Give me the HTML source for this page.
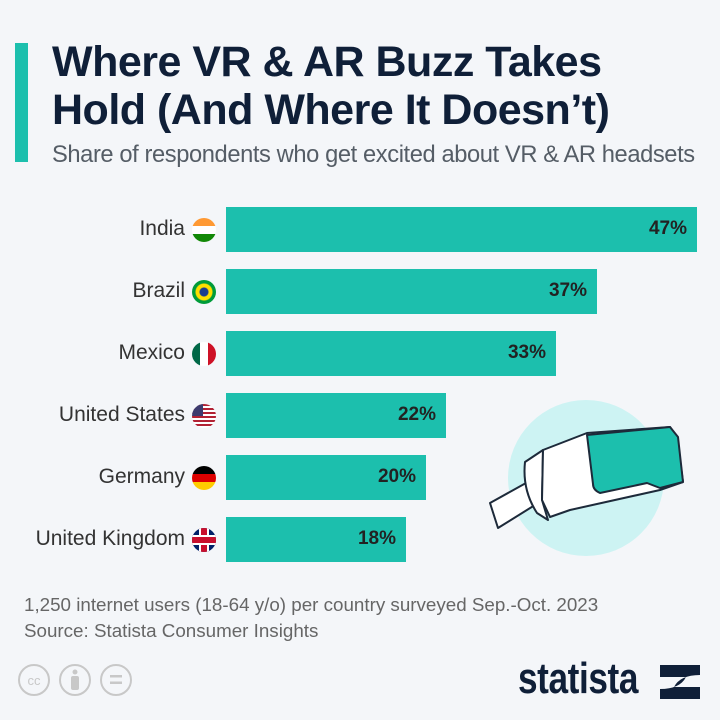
<!DOCTYPE html>
<html><head><style>
body{margin:0;width:720px;height:720px;background:#f4f6f9;font-family:"Liberation Sans",sans-serif;position:relative;overflow:hidden}
.a{position:absolute}
.t{left:52px;color:#0f1f38;font-weight:bold;font-size:43px;line-height:48px;top:38px;letter-spacing:-0.5px;white-space:nowrap}
.s{left:52px;top:142px;font-size:23.7px;color:#555d66;letter-spacing:-0.4px;white-space:nowrap}
.bar{position:absolute;left:226px;height:45px;background:#1cbfad}
.bar span{position:absolute;right:10px;top:11px;font-size:19px;color:#222;font-weight:bold}
.lab{position:absolute;right:535px;font-size:21px;color:#333;width:220px;text-align:right;white-space:nowrap}
.fl{position:absolute;left:192px;width:24px;height:24px;border-radius:50%;overflow:hidden}
.f{font-size:18.8px;color:#666;left:24px;white-space:nowrap}
</style></head><body>
<div class="a" style="left:15px;top:43px;width:13px;height:119px;background:#1cbfad"></div>
<div class="a t">Where VR &amp; AR Buzz Takes<br>Hold (And Where It Doesn’t)</div>
<div class="a s">Share of respondents who get excited about VR &amp; AR headsets</div>

<svg class="a" style="left:0;top:0" width="720" height="720">
<circle cx="586" cy="478" r="78" fill="#cdf3f3"/>
<g stroke="#1d2a3a" stroke-width="2" stroke-linejoin="round">
<path d="M490 503 L535 478 L543 500 L498 528 Z" fill="#fff"/>
<path d="M525 462 L543 450 L542 500 L548 520 L537 513 Q522 490 525 462 Z" fill="#fff"/>
<path d="M543 450 L587 433 L670 427 L677 437 L683 482 L660 490 L570 510 L550 517 L542 500 Z" fill="#fff"/>
<path d="M587 435 L670 427 L678 437 L683 482 L660 488 L647 483 L600 493 Q593 490 593 484 Z" fill="#1cbfad"/>
</g>
</svg>

<div class="bar" style="top:207px;width:471px"><span>47%</span></div>
<div class="bar" style="top:269px;width:371px"><span>37%</span></div>
<div class="bar" style="top:331px;width:330px"><span>33%</span></div>
<div class="bar" style="top:393px;width:220px"><span>22%</span></div>
<div class="bar" style="top:455px;width:200px"><span>20%</span></div>
<div class="bar" style="top:517px;width:180px"><span>18%</span></div>

<div class="lab" style="top:217px">India</div>
<div class="lab" style="top:279px">Brazil</div>
<div class="lab" style="top:341px">Mexico</div>
<div class="lab" style="top:403px">United States</div>
<div class="lab" style="top:465px">Germany</div>
<div class="lab" style="top:527px">United Kingdom</div>

<div class="fl" style="top:218px;background:linear-gradient(#f93 33%,#fff 33% 66%,#128807 66%)"></div>
<div class="fl" style="top:280px;background:radial-gradient(circle,#1a3c8f 4px,#fedf00 5px,#fedf00 8px,#009b3a 9px)"></div>
<div class="fl" style="top:342px;background:linear-gradient(90deg,#006847 33%,#fff 33% 66%,#ce1126 66%)"></div>
<div class="fl" style="top:404px;background:repeating-linear-gradient(#b22234 0 2px,#fff 2px 4px)"><div style="width:11px;height:12px;background:#3c3b6e"></div></div>
<div class="fl" style="top:466px;background:linear-gradient(#000 33%,#d00 33% 66%,#fc0 66%)"></div>
<div class="fl" style="top:528px;background:#012169"><div style="position:absolute;top:0;width:6px;height:24px;background:#c8102e;border-left:2px solid #fff;border-right:2px solid #fff;left:7px"></div><div style="position:absolute;top:7px;left:0;width:24px;height:6px;background:#c8102e;border-top:2px solid #fff;border-bottom:2px solid #fff"></div></div>

<div class="a f" style="top:594px">1,250 internet users (18-64 y/o) per country surveyed Sep.-Oct. 2023</div>
<div class="a f" style="top:620px">Source: Statista Consumer Insights</div>

<svg class="a" style="left:15px;top:662px" width="130" height="36">
<g fill="none" stroke="#c8c8c8" stroke-width="2"><circle cx="19" cy="18" r="15"/><circle cx="60" cy="18" r="15"/><circle cx="101" cy="18" r="15"/></g>
<text x="19" y="23" font-size="13" fill="#c8c8c8" text-anchor="middle" font-family="Liberation Sans">cc</text>
<g fill="#c8c8c8"><circle cx="60" cy="10" r="2.5"/><rect x="56" y="14" width="8" height="14" rx="2"/><rect x="95" y="13" width="12" height="2.5"/><rect x="95" y="19.5" width="12" height="2.5"/></g>
</svg>
<div class="a" style="left:518px;top:654px;font-size:44px;font-weight:bold;color:#0f1f38;transform:scaleX(0.8);transform-origin:left;letter-spacing:-0.5px">statista</div>
<svg class="a" style="left:660px;top:665px" width="40" height="34"><path d="M0 0H40V10Q20 10 14 22H40V34H0V24Q20 24 26 12H0Z" fill="#0f1f38"/></svg>
</body></html>
